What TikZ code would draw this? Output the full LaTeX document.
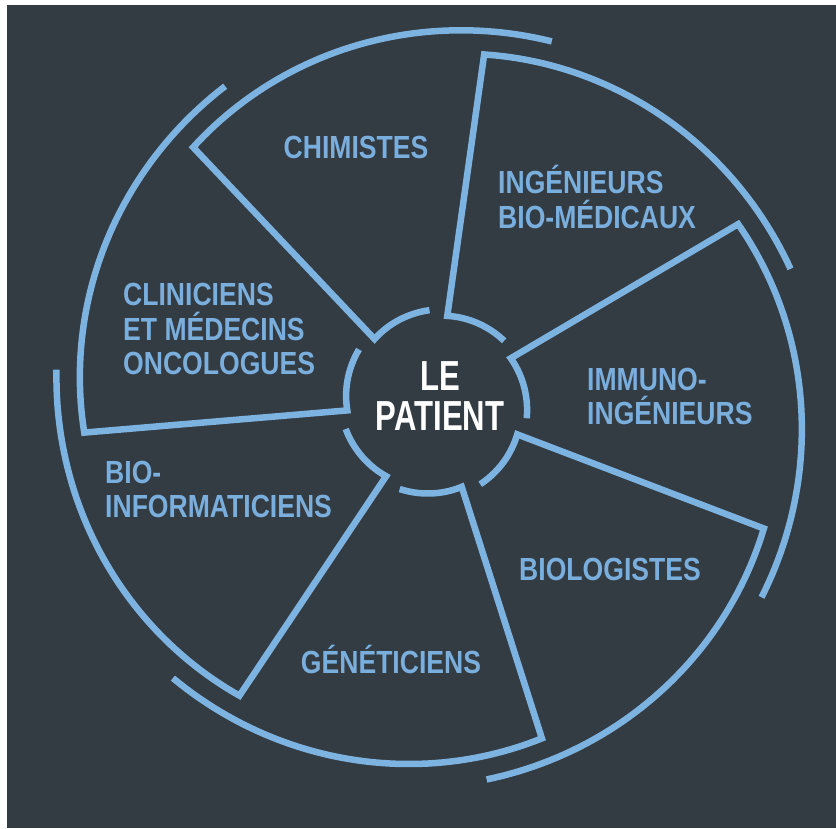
\documentclass[tikz,border=0pt]{standalone}
\usepackage{fontspec}
\setmainfont{Liberation Sans}
\newfontfamily\labfont{Liberation Sans}[FakeStretch=0.83]
\newfontfamily\patfont{Liberation Sans}[FakeStretch=0.74]
\definecolor{bg}{RGB}{51,59,67}
\definecolor{ln}{RGB}{125,179,224}
\definecolor{tx}{RGB}{122,174,220}
\begin{document}
\begin{tikzpicture}[x=1pt,y=1pt,
  blade/.style={draw=ln, line width=6.5pt, line join=miter, line cap=butt},
  lab/.style={text=tx, font=\labfont\bfseries\fontsize{32}{35}\selectfont, inner sep=0pt},
  pat/.style={text=white, font=\patfont\bfseries\fontsize{42}{46}\selectfont, inner sep=0pt}]
\useasboundingbox (0,0) rectangle (836,-828);
\fill[white] (0,0) rectangle (836,-828);
\fill[bg] (7,-5) rectangle (836,-828);
\coordinate (C) at (435,-403);
\foreach \k in {0,...,6}{
  \pgfmathsetmacro\th{133.4-51.43*\k}
  \draw[blade, shift={(C)}] plot[domain=0:40, samples=25] ({\th-40+\x}:{93-5*\x/40}) -- plot[domain=0:61.3, samples=50] ({\th-\x}:{352+28*\x/61.3});
}
\node[lab, anchor=base] (chim) at (356,-158) {CHIMISTES};
\node[lab, anchor=base west] (ing1) at (498,-193) {INGÉNIEURS};
\node[lab, anchor=base west] (ing2) at (498,-228) {BIO-MÉDICAUX};
\node[lab, anchor=base west] (imm1) at (587,-390) {IMMUNO-};
\node[lab, anchor=base west] (imm2) at (587,-424) {INGÉNIEURS};
\node[lab, anchor=base] (bio) at (610,-580) {BIOLOGISTES};
\node[lab, anchor=base] (gen) at (391,-673) {GÉNÉTICIENS};
\node[lab, anchor=base west] (inf1) at (105,-483) {BIO-};
\node[lab, anchor=base west] (inf2) at (105,-517) {INFORMATICIENS};
\node[lab, anchor=base west] (cli1) at (123,-305) {CLINICIENS};
\node[lab, anchor=base west] (cli2) at (123,-340) {ET MÉDECINS};
\node[lab, anchor=base west] (cli3) at (123,-374) {ONCOLOGUES};
\node[pat, anchor=base] (le) at (440,-390) {LE};
\node[pat, anchor=base] (pa) at (440,-430) {PATIENT};
\end{tikzpicture}
\end{document}
